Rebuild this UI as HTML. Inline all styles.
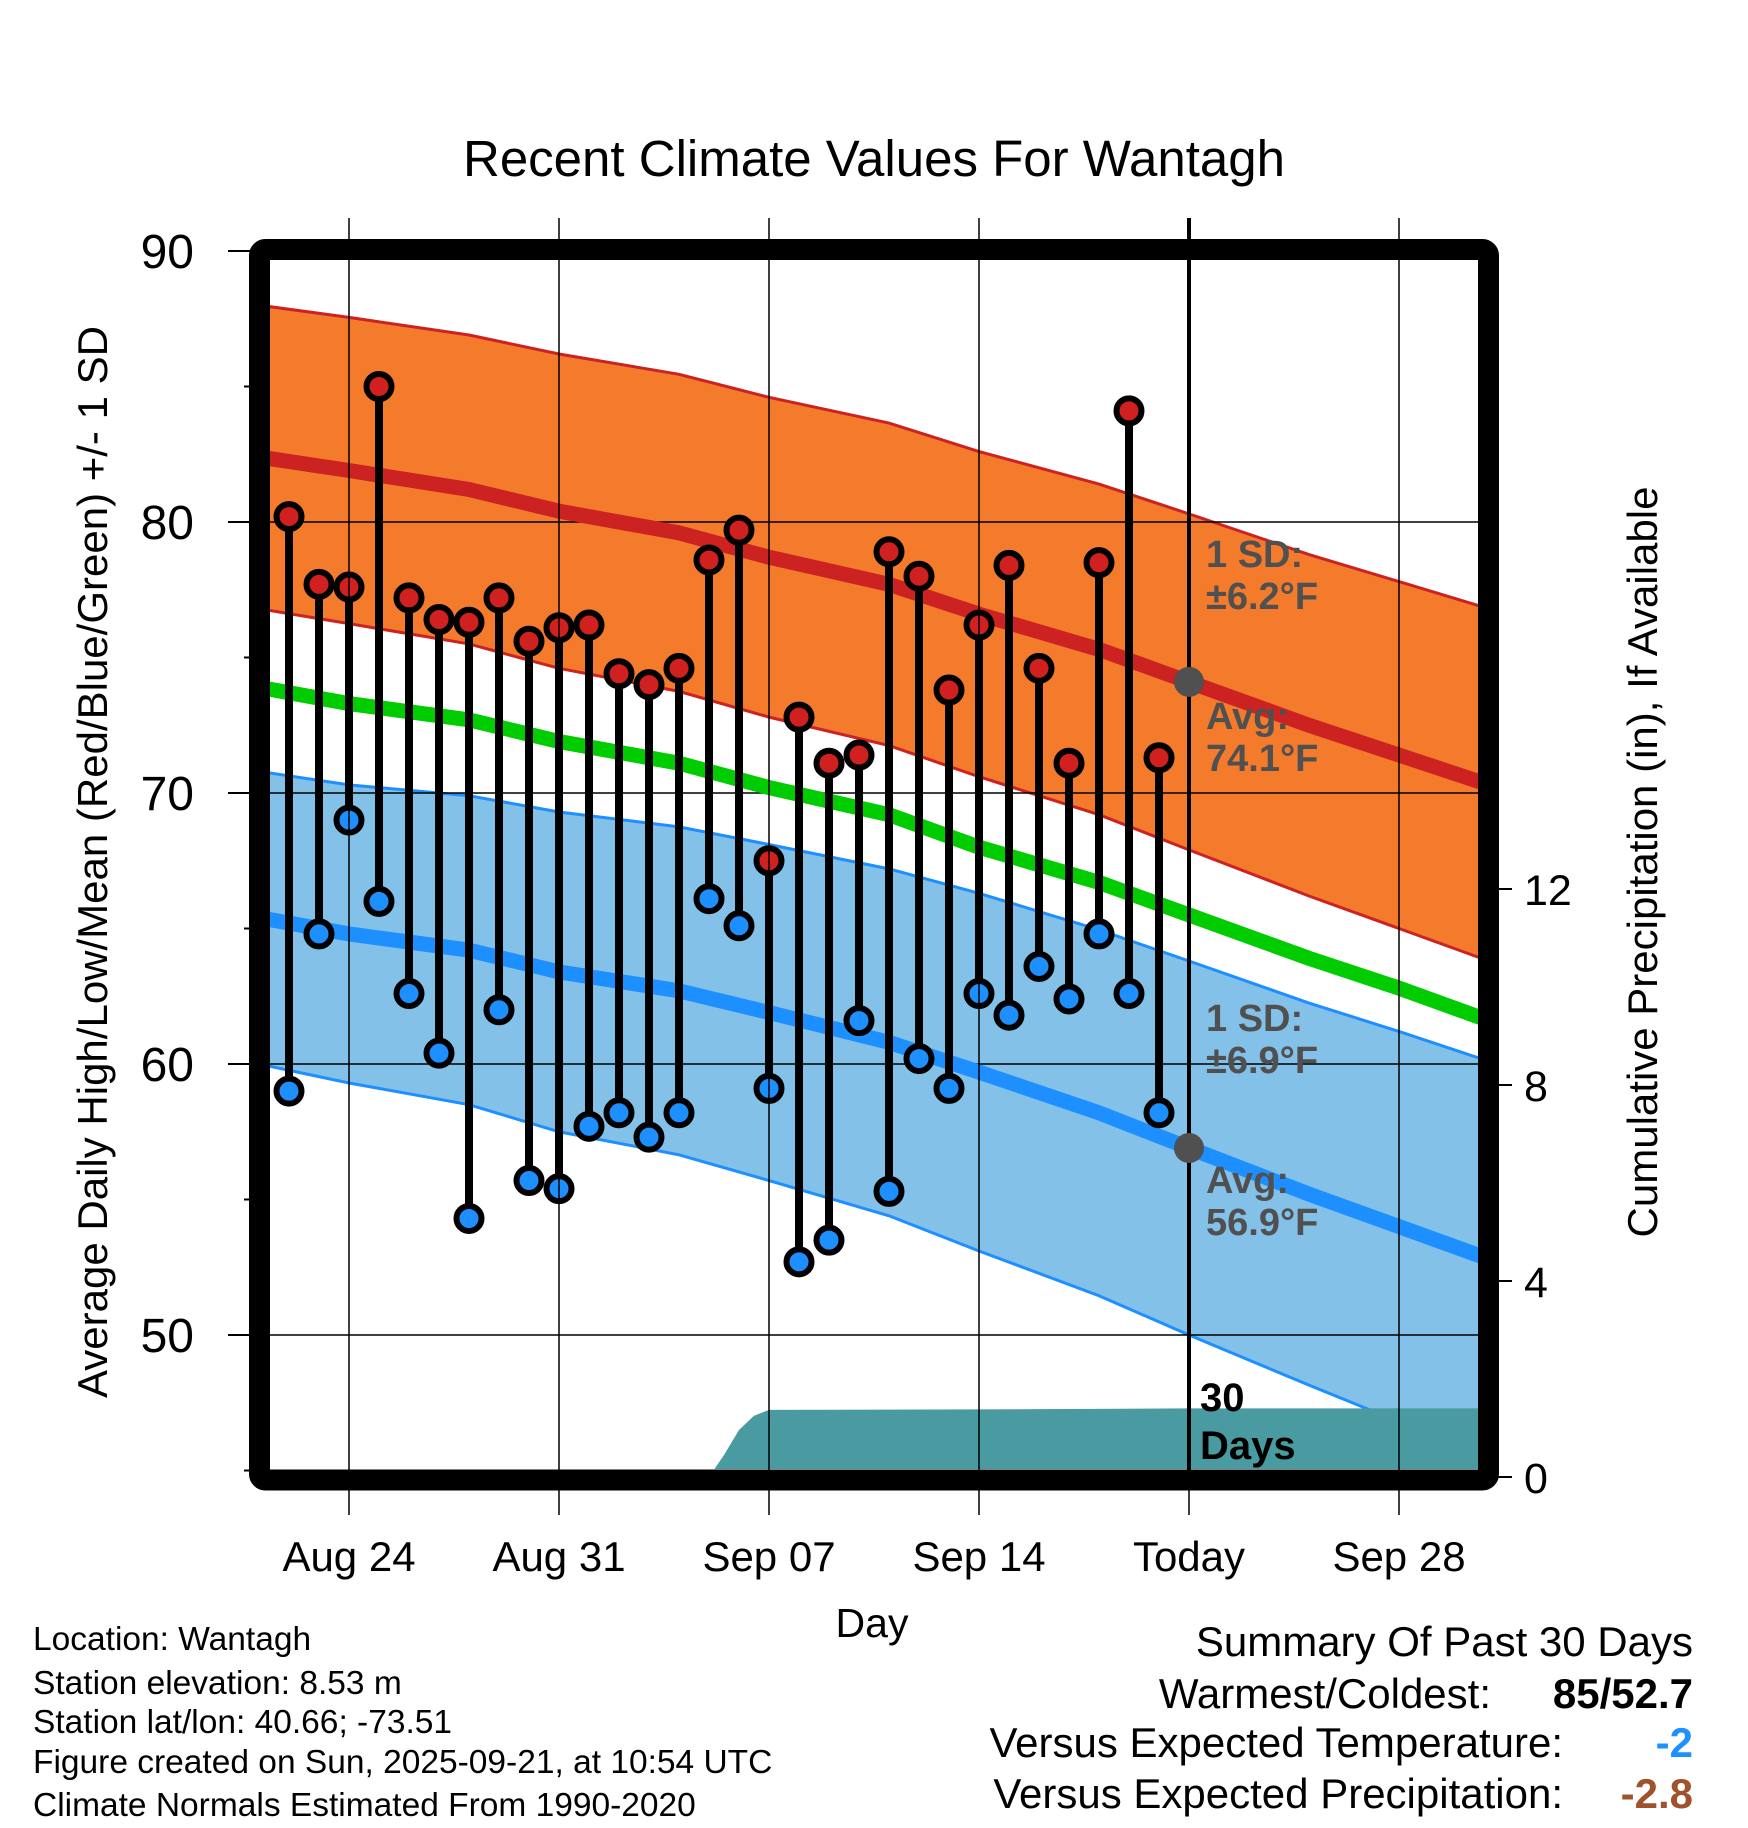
<!DOCTYPE html>
<html><head><meta charset="utf-8">
<style>
html,body{margin:0;padding:0;background:#fff;}
svg{display:block;font-family:"Liberation Sans",Arial,sans-serif;}
</style></head>
<body>
<svg id="chart" width="1748" height="1828" viewBox="0 0 1748 1828" xmlns="http://www.w3.org/2000/svg">
<defs><clipPath id="plotclip"><rect x="270" y="260" width="1208" height="1209"/></clipPath></defs>
<g id="layers" clip-path="url(#plotclip)"></g>
<g id="overlay"></g>
<text x="874" y="176" font-size="51" text-anchor="middle">Recent Climate Values For Wantagh</text>
<text transform="translate(107,862) rotate(-90)" font-size="42" text-anchor="middle">Average Daily High/Low/Mean (Red/Blue/Green) +/- 1 SD</text>
<text transform="translate(1657,862) rotate(-90)" font-size="42" text-anchor="middle">Cumulative Precipitation (in), If Available</text>
<text x="872" y="1637" font-size="41" text-anchor="middle">Day</text>
<g font-size="33.5">
<text x="33" y="1650">Location: Wantagh</text>
<text x="33" y="1694">Station elevation: 8.53 m</text>
<text x="33" y="1733">Station lat/lon: 40.66; -73.51</text>
<text x="33" y="1773">Figure created on Sun, 2025-09-21, at 10:54 UTC</text>
<text x="33" y="1816">Climate Normals Estimated From 1990-2020</text>
</g>
<g font-size="42" text-anchor="end">
<text x="1693" y="1656">Summary Of Past 30 Days</text>
<text x="1491" y="1708">Warmest/Coldest:</text>
<text x="1693" y="1708" font-weight="bold">85/52.7</text>
<text x="1563" y="1757">Versus Expected Temperature:</text>
<text x="1693" y="1757" font-weight="bold" fill="#1e90ff">-2</text>
<text x="1563" y="1808">Versus Expected Precipitation:</text>
<text x="1693" y="1808" font-weight="bold" fill="#a0522d">-2.8</text>
</g>
</svg>
<script>
// normals sampled at day offsets from Aug 21
const normDays = [0, 3, 7, 10, 14, 17, 21, 24, 28, 31, 35, 38, 41];
const avgHigh = [82.4, 81.9, 81.2, 80.4, 79.6, 78.7, 77.7, 76.6, 75.3, 74.1, 72.5, 71.4, 70.3];
const sdHigh = [5.6, 5.65, 5.7, 5.8, 5.85, 5.9, 5.95, 6.0, 6.1, 6.2, 6.3, 6.4, 6.5];
const avgLow = [65.4, 64.8, 64.2, 63.4, 62.7, 61.9, 60.8, 59.7, 58.2, 56.9, 55.2, 54.0, 52.8];
const sdLow = [5.4, 5.5, 5.7, 5.9, 6.05, 6.2, 6.4, 6.6, 6.75, 6.9, 7.05, 7.2, 7.3];
const avgMean = [73.9, 73.3, 72.7, 71.9, 71.1, 70.2, 69.2, 68.0, 66.7, 65.5, 63.9, 62.8, 61.6];
// observations Aug 22 .. Sep 20 (day offsets 1..30)
const obsDays = [1,2,3,4,5,6,7,8,9,10,11,12,13,14,15,16,17,18,19,20,21,22,23,24,25,26,27,28,29,30];
const highs = [80.2,77.7,77.6,85.0,77.2,76.4,76.3,77.2,75.6,76.1,76.2,74.4,74.0,74.6,78.6,79.7,67.5,72.8,71.1,71.4,78.9,78.0,73.8,76.2,78.4,74.6,71.1,78.5,84.1,71.3];
const lows = [59.0,64.8,69.0,66.0,62.6,60.4,54.3,62.0,55.7,55.4,57.7,58.2,57.3,58.2,66.1,65.1,59.1,52.7,53.5,61.6,55.3,60.2,59.1,62.6,61.8,63.6,62.4,64.8,62.6,58.2];
// cumulative precipitation
const precipDays = [0, 15, 15.5, 16, 16.5, 17, 24, 31, 42];
const precipVals = [0, 0, 0.45, 0.96, 1.25, 1.37, 1.38, 1.40, 1.40];
const tempTicks = [50, 60, 70, 80, 90];
const precipTicks = [0, 4, 8, 12];
const dateTickDays = [3, 10, 17, 24, 31, 38];
const dateTickLabels = ["Aug 24", "Aug 31", "Sep 07", "Sep 14", "Today", "Sep 28"];
const todayDay = 31;
const todayHigh = 74.1, todayLow = 56.9;

const NS = "http://www.w3.org/2000/svg";
const X = d => 349 + (d - 3) * 30;
const Y = v => 522 - (v - 80) * 27.1;
const YP = p => 1477 - p * 49;
const layers = document.getElementById('layers');
const overlay = document.getElementById('overlay');
function mk(tag, attrs, parent) {
  const e = document.createElementNS(NS, tag);
  for (const k in attrs) e.setAttribute(k, attrs[k]);
  parent.appendChild(e);
  return e;
}
function pts(arr, f) { return normDays.map((d, i) => X(d) + ',' + f(i)).join(' '); }
function bandPath(up, dn) {
  const a = normDays.map((d, i) => X(d) + ',' + Y(up(i)));
  const b = normDays.map((d, i) => X(d) + ',' + Y(dn(i))).reverse();
  return 'M' + a.join('L') + 'L' + b.join('L') + 'Z';
}
let e = mk('path', {d: bandPath(i => avgHigh[i] + sdHigh[i], i => avgHigh[i] - sdHigh[i]), fill: '#f47a2c', stroke: 'none'}, layers);


e = mk('path', {d: bandPath(i => avgLow[i] + sdLow[i], i => avgLow[i] - sdLow[i]), fill: '#83c1e8', stroke: 'none'}, layers);


[[i => avgHigh[i] + sdHigh[i], '#cc2222', 3, 'high-sd-upper'], [i => avgHigh[i] - sdHigh[i], '#cc2222', 3, 'high-sd-lower'],
 [i => avgLow[i] + sdLow[i], '#1e8fff', 3, 'low-sd-upper'], [i => avgLow[i] - sdLow[i], '#1e8fff', 3, 'low-sd-lower']].forEach(s => {
  const l = mk('polyline', {points: pts(null, i => Y(s[0](i))), fill: 'none', stroke: s[1], 'stroke-width': s[2]}, layers);
  
  
});
tempTicks.forEach(t => {
  const g = mk('line', {x1: 270, x2: 1478, y1: Y(t), y2: Y(t), stroke: '#000', 'stroke-width': 1.5}, layers);
  
  
});
dateTickDays.forEach(d => {
  const g = mk('line', {x1: X(d), x2: X(d), y1: 218, y2: 1515, stroke: '#000', 'stroke-width': 1.5}, overlay);
  
  
});
[[avgMean, '#00cc00', 'mean-line'], [avgHigh, '#cc2222', 'avg-high-line'], [avgLow, '#1e8fff', 'avg-low-line']].forEach(s => {
  const l = mk('polyline', {points: pts(null, i => Y(s[0][i])), fill: 'none', stroke: s[1], 'stroke-width': 15}, layers);
  
  
});
let pd = 'M' + X(precipDays[0]) + ',' + YP(0);
precipDays.forEach((d, i) => { pd += 'L' + X(d) + ',' + YP(precipVals[i]); });
pd += 'L' + X(precipDays[precipDays.length - 1]) + ',' + YP(0) + 'Z';
e = mk('path', {d: pd, fill: '#4a9aa2', stroke: 'none'}, layers);


obsDays.forEach((d, i) => {
  const s = mk('line', {x1: X(d), x2: X(d), y1: Y(highs[i]), y2: Y(lows[i]), stroke: '#000', 'stroke-width': 8}, layers);
  
  
});
obsDays.forEach((d, i) => {
  const h = mk('circle', {cx: X(d), cy: Y(highs[i]), r: 12.5, fill: '#d02020', stroke: '#000', 'stroke-width': 6}, layers);
  
  
  const l = mk('circle', {cx: X(d), cy: Y(lows[i]), r: 12.5, fill: '#1e8fff', stroke: '#000', 'stroke-width': 6}, layers);
  
  
});
e = mk('line', {x1: X(todayDay), x2: X(todayDay), y1: 218, y2: 1470, stroke: '#000', 'stroke-width': 4}, overlay);


[todayHigh, todayLow].forEach(v => {
  const c = mk('circle', {cx: X(todayDay), cy: Y(v), r: 15, fill: '#505050'}, overlay);
  
  
});
function ann(x, y, t, name, fill, fs) {
  const a = mk('text', {x: x, y: y, 'font-size': fs || 38, 'font-weight': 'bold', fill: fill}, overlay);
  a.textContent = t;
  
  
}
ann(1206, 567, '1 SD:', 'high-sd-label', '#505050');
ann(1206, 609, '±6.2°F', 'high-sd-value', '#505050');
ann(1206, 729, 'Avg:', 'high-avg-label', '#505050');
ann(1206, 771, '74.1°F', 'high-avg-value', '#505050');
ann(1206, 1031, '1 SD:', 'low-sd-label', '#505050');
ann(1206, 1073, '±6.9°F', 'low-sd-value', '#505050');
ann(1206, 1193, 'Avg:', 'low-avg-label', '#505050');
ann(1206, 1235, '56.9°F', 'low-avg-value', '#505050');
ann(1200, 1411, '30', 'thirty-days-label', '#000', 40);
ann(1200, 1459, 'Days', 'thirty-days-label-2', '#000', 40);
e = mk('rect', {x: 259.5, y: 249.5, width: 1229, height: 1230.5, rx: 6, fill: 'none', stroke: '#000', 'stroke-width': 21}, overlay);


for (let v = 45; v <= 90; v += 5) {
  const major = v % 10 === 0;
  const t = mk('line', {x1: major ? 228 : 244, x2: 250, y1: Y(v), y2: Y(v), stroke: '#000', 'stroke-width': 2}, overlay);
  
  
}
tempTicks.forEach(v => {
  const t = mk('text', {x: 194, y: Y(v) + 17, 'font-size': 48, 'text-anchor': 'end'}, overlay);
  t.textContent = v;
  
  
});
precipTicks.forEach(p => {
  const tk = mk('line', {x1: 1488, x2: 1512, y1: YP(p), y2: YP(p), stroke: '#000', 'stroke-width': 2}, overlay);
  
  
  const t = mk('text', {x: 1524, y: YP(p) + 16, 'font-size': 43}, overlay);
  t.textContent = p;
  
  
});
dateTickDays.forEach((d, i) => {
  const t = mk('text', {x: X(d), y: 1571, 'font-size': 42, 'text-anchor': 'middle'}, overlay);
  t.textContent = dateTickLabels[i];
  
  
});
</script>
</body></html>
